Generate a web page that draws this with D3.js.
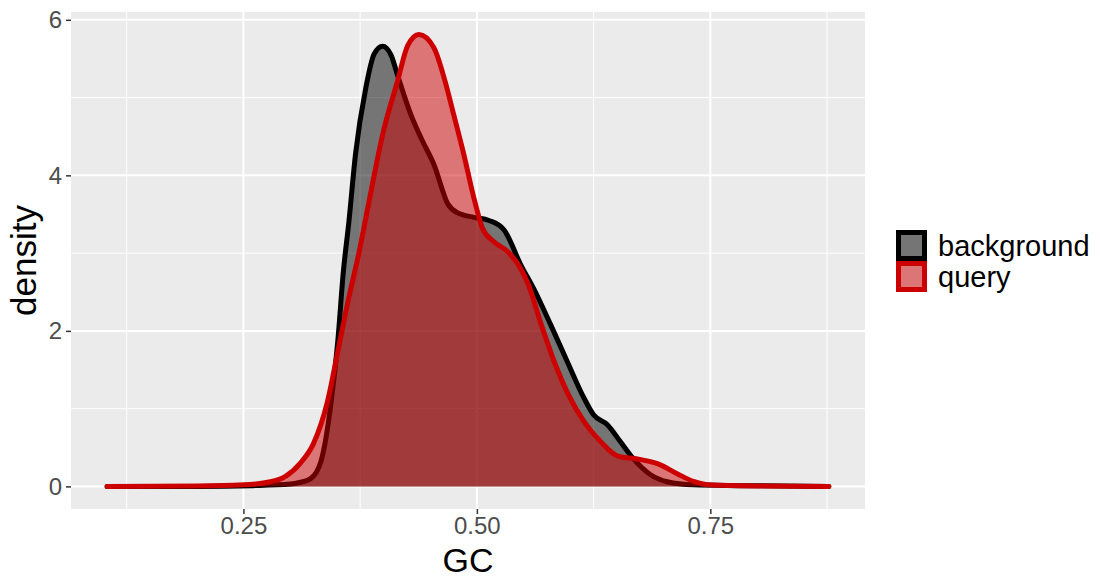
<!DOCTYPE html>
<html><head><meta charset="utf-8">
<script src="https://cdn.jsdelivr.net/npm/d3@7"></script>
<style>body{margin:0;background:#fff}text{font-family:"Liberation Sans",Arial,sans-serif}</style>
</head><body>
<svg id="chart" width="1101" height="580"></svg>
<script>
// ---- data ----
const seriesNames = ["background", "query"];
const bgX = [0.104,0.20,0.26,0.30,0.31,0.322,0.333,0.344,0.351,0.357,0.363,0.370,0.381,0.390,0.399,0.408,0.415,0.429,0.441,0.454,0.469,0.479,0.497,0.513,0.529,0.547,0.561,0.579,0.597,0.615,0.625,0.640,0.654,0.668,0.686,0.704,0.732,0.78,0.877];
const bgY = [0,0,0.01,0.03,0.05,0.10,0.32,1.09,1.86,2.76,3.41,4.27,5.12,5.56,5.66,5.55,5.29,4.79,4.46,4.14,3.63,3.52,3.46,3.42,3.30,2.85,2.54,2.08,1.60,1.13,0.92,0.79,0.57,0.35,0.15,0.06,0.02,0.01,0];
const qX = [0.104,0.20,0.25,0.279,0.295,0.311,0.325,0.340,0.351,0.362,0.374,0.383,0.400,0.415,0.426,0.438,0.454,0.465,0.475,0.486,0.497,0.506,0.518,0.533,0.547,0.555,0.569,0.583,0.598,0.615,0.633,0.651,0.673,0.694,0.715,0.733,0.748,0.80,0.877];
const qY = [0,0.005,0.02,0.06,0.13,0.30,0.55,1.09,1.73,2.38,3.02,3.57,4.57,5.21,5.67,5.81,5.64,5.25,4.79,4.27,3.70,3.32,3.15,3.02,2.80,2.60,2.08,1.60,1.18,0.83,0.57,0.39,0.35,0.29,0.16,0.06,0.02,0.005,0];
const xTicks = [0.25, 0.50, 0.75];
const xTickLabels = ["0.25", "0.50", "0.75"];
const xMinor = [0.125, 0.375, 0.625, 0.875];
const yTicks = [0, 2, 4, 6];
const yTickLabels = ["0", "2", "4", "6"];
const yMinor = [1, 3, 5];

// ---- layout ----
const P = {left: 71, right: 865, top: 12, bottom: 509};
const svg = d3.select("#chart");

const allX = bgX.concat(qX), allY = bgY.concat(qY);
const xe = d3.extent(allX), ye = [0, d3.max(allY)];
const xp = (xe[1]-xe[0])*0.05, yp = (ye[1]-ye[0])*0.05;
const x = d3.scaleLinear().domain([xe[0]-xp, xe[1]+xp]).range([P.left, P.right]);
const y = d3.scaleLinear().domain([ye[0]-yp, ye[1]+yp]).range([P.bottom, P.top]);

// panel
svg.append("rect").attr("x",P.left).attr("y",P.top).attr("width",P.right-P.left).attr("height",P.bottom-P.top).attr("fill","#EBEBEB");
const g = svg.append("g");
g.selectAll(".xm").data(xMinor).join("line").attr("x1",d=>x(d)).attr("x2",d=>x(d)).attr("y1",P.top).attr("y2",P.bottom).attr("stroke","#fff").attr("stroke-width",1);
g.selectAll(".ym").data(yMinor).join("line").attr("y1",d=>y(d)).attr("y2",d=>y(d)).attr("x1",P.left).attr("x2",P.right).attr("stroke","#fff").attr("stroke-width",1);
g.selectAll(".xM").data(xTicks).join("line").attr("x1",d=>x(d)).attr("x2",d=>x(d)).attr("y1",P.top).attr("y2",P.bottom).attr("stroke","#fff").attr("stroke-width",2);
g.selectAll(".yM").data(yTicks).join("line").attr("y1",d=>y(d)).attr("y2",d=>y(d)).attr("x1",P.left).attr("x2",P.right).attr("stroke","#fff").attr("stroke-width",2);

// densities
const curve = d3.curveMonotoneX;
const area = d3.area().x(d=>x(d[0])).y0(y(0)).y1(d=>y(d[1])).curve(curve);
const line = d3.line().x(d=>x(d[0])).y(d=>y(d[1])).curve(curve);
const series = [
  {name: seriesNames[0], pts: bgX.map((v,i)=>[v,bgY[i]]), fill: "rgba(0,0,0,0.5)", stroke: "#000000"},
  {name: seriesNames[1], pts: qX.map((v,i)=>[v,qY[i]]), fill: "rgba(205,0,0,0.5)", stroke: "#CD0000"}
];
series.forEach(s=>{
  svg.append("path").attr("d",area(s.pts)).attr("fill",s.fill);
  svg.append("path").attr("d",line(s.pts)).attr("fill","none").attr("stroke",s.stroke).attr("stroke-width",5).attr("stroke-linejoin","round").attr("stroke-linecap","round");
});

// axes
const xAxis = d3.axisBottom(x).tickValues(xTicks).tickFormat((d,i)=>xTickLabels[i]).tickSize(5).tickPadding(3);
const xa = svg.append("g").attr("transform",`translate(0,${P.bottom})`).call(xAxis);
const yAxis = d3.axisLeft(y).tickValues(yTicks).tickFormat((d,i)=>yTickLabels[i]).tickSize(5).tickPadding(4);
const ya = svg.append("g").attr("transform",`translate(${P.left},0)`).call(yAxis);
[xa,ya].forEach(a=>{
  a.select(".domain").remove();
  a.selectAll(".tick line").attr("stroke","#333333").attr("stroke-width",1.5);
  a.selectAll(".tick text").attr("fill","#4D4D4D").style("font-size","24px").style("font-family","Liberation Sans, Arial, sans-serif");
});

svg.append("text").attr("x",(P.left+P.right)/2).attr("y",572).attr("text-anchor","middle").style("font-size","34px").attr("fill","#000").text("GC");
svg.append("text").attr("transform",`translate(36,${(P.top+P.bottom)/2}) rotate(-90)`).attr("text-anchor","middle").style("font-size","35px").attr("fill","#000").text("density");

// legend
const lg = svg.append("g").attr("transform","translate(896,230)");
series.forEach((s,i)=>{
  const gy = i*31;
  lg.append("rect").attr("x",2.5).attr("y",gy+2.5).attr("width",26).attr("height",26).attr("fill","#EBEBEB");
  lg.append("rect").attr("x",2.5).attr("y",gy+2.5).attr("width",26).attr("height",26).attr("fill",s.fill).attr("stroke",s.stroke).attr("stroke-width",5);
  lg.append("text").attr("x",42).attr("y",gy+15.5).attr("dominant-baseline","central").style("font-size","29px").attr("fill","#000").text(s.name);
});
</script>
</body></html>
